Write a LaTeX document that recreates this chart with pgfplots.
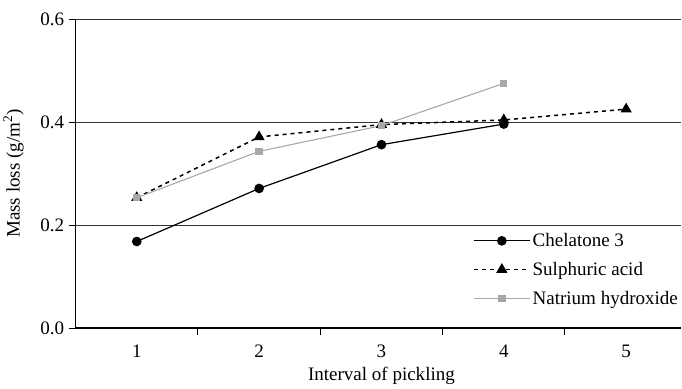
\documentclass[border=0pt]{standalone}
\usepackage{fontspec}
\setmainfont{Liberation Serif}
\usepackage{pgfplots}
\pgfplotsset{compat=1.18}
\definecolor{natgray}{HTML}{A8A8A8}
\begin{document}
\begin{tikzpicture}[font=\fontsize{19bp}{22bp}\selectfont]
\begin{axis}[
  scale only axis, width=605bp, height=308.7bp,
  xmin=0.5, xmax=5.45, ymin=0, ymax=0.6,
  /pgf/number format/assume math mode=true,
  tick label style={font=\fontsize{19bp}{22bp}\selectfont},
  label style={font=\fontsize{19bp}{22bp}\selectfont},
  axis x line*=bottom, axis y line*=left,
  axis line style={-, black},
  x axis line style={line width=1.6bp},
  y axis line style={line width=1bp},
  ytick={0,0.2,0.4,0.6}, yticklabels={0.0,0.2,0.4,0.6},
  xtick={1.5,2.5,3.5,4.5}, xticklabels={},
  tick align=outside,
  major tick length=7bp,
  tick style={black, line width=1bp},
  extra x ticks={1,2,3,4,5},
  extra x tick labels={1,2,3,4,5},
  extra x tick style={major tick length=0bp, grid=none, xticklabel style={yshift=-13bp}},
  ymajorgrids,
  major grid style={black!80, line width=1bp},
  yticklabel style={xshift=-1bp},
  ylabel={Mass loss (g/m\textsuperscript{2})},
  xlabel={Interval of pickling},
  ylabel style={at={(axis description cs:-0.1025,0.5)}, anchor=center},
  xlabel style={at={(axis description cs:0.505,0)}, anchor=center, yshift=-48bp},
  legend style={draw=none, fill=none, at={(axis description cs:0.656,0.313)}, anchor=north west,
    font=\fontsize{19bp}{22bp}\selectfont, row sep=10bp, inner sep=0pt,
    legend cell align=left},
  legend image code/.code={\draw[mark repeat=2,mark phase=2] plot coordinates {(0bp,0bp) (28bp,0bp) (56bp,0bp)};},
]
\coordinate (tl) at (axis description cs:0,1);
\addplot[black, line width=1.2bp, mark=*, mark size=4.2bp, mark options={solid, fill=black}]
  coordinates {(1,0.168) (2,0.271) (3,0.356) (4,0.396)};
\addlegendentry{Chelatone 3}
\addplot[black, line width=1.5bp, dash pattern=on 4bp off 4bp, mark=triangle*, mark size=5bp, mark options={solid, fill=black}]
  coordinates {(1,0.253) (2,0.371) (3,0.395) (4,0.404) (5,0.425)};
\addlegendentry{Sulphuric acid}
\addplot[natgray, line width=1.1bp, mark=square*, mark size=3.1bp, mark options={solid, fill=natgray, draw=natgray}]
  coordinates {(1,0.253) (2,0.343) (3,0.393) (4,0.475)};
\addlegendentry{Natrium hydroxide}
\end{axis}
\path (tl) ++(0,19bp);
\end{tikzpicture}
\end{document}
